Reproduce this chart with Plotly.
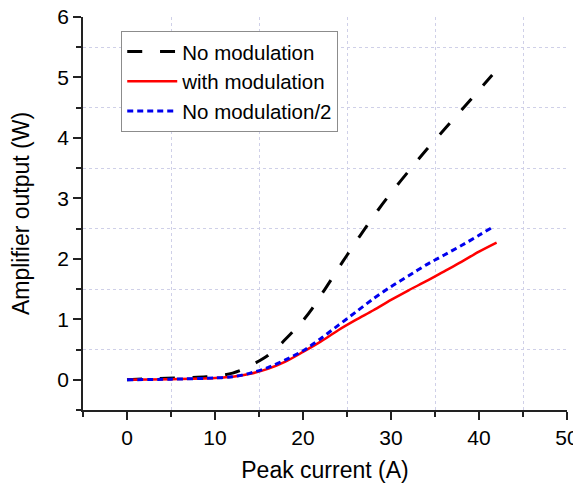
import plotly.graph_objects as go

# Peak current (A) and amplifier output (W)
x_nomod = [0, 3, 6, 9, 11, 12, 13, 14, 15, 16, 17, 18, 19, 20, 21, 22, 23, 24, 25, 26, 27, 28, 29, 30, 32, 34, 36, 38, 40, 41.5]
y_nomod = [0, 0.02, 0.03, 0.05, 0.08, 0.11, 0.16, 0.23, 0.31, 0.40, 0.52, 0.67, 0.82, 0.98, 1.17, 1.39, 1.61, 1.84, 2.06, 2.28, 2.49, 2.70, 2.90, 3.09, 3.45, 3.80, 4.13, 4.46, 4.79, 5.04]

x_mod = [0, 5, 10, 12, 14, 16, 18, 20, 22, 24, 26, 28, 30, 32, 34, 36, 38, 40, 42]
y_mod = [0, 0.01, 0.03, 0.05, 0.10, 0.18, 0.30, 0.46, 0.63, 0.82, 0.99, 1.15, 1.32, 1.48, 1.63, 1.79, 1.95, 2.12, 2.27]

x_half = [0, 5, 10, 12, 14, 16, 18, 20, 22, 24, 26, 28, 30, 32, 34, 36, 38, 40, 41.5]
y_half = [0, 0.01, 0.03, 0.05, 0.11, 0.20, 0.33, 0.48, 0.68, 0.90, 1.12, 1.34, 1.54, 1.72, 1.90, 2.06, 2.22, 2.39, 2.52]

names = ["No modulation", "with modulation", "No modulation/2"]

FONT = "Liberation Sans, Arial, sans-serif"

fig = go.Figure()
fig.add_trace(go.Scatter(x=x_nomod, y=y_nomod, mode="lines", name=names[0],
                         line=dict(color="black", width=3, dash="15px,17.8px", shape="spline", smoothing=0.8)))
fig.add_trace(go.Scatter(x=x_mod, y=y_mod, mode="lines", name=names[1],
                         line=dict(color="#ff0000", width=2.5, shape="spline", smoothing=0.8)))
fig.add_trace(go.Scatter(x=x_half, y=y_half, mode="lines", name=names[2],
                         line=dict(color="#0000ee", width=3, dash="6px,4px", shape="spline", smoothing=0.8)))

grid_color = "#cfd0e8"
axis_color = "#222222"

# the page body adds an 8px offset; margins compensate so the plot area lands in place
fig.update_layout(
    width=581, height=484,
    margin=dict(l=75, t=9, r=22, b=82),
    paper_bgcolor="white", plot_bgcolor="white",
    font=dict(family=FONT, size=21, color="black"),
    showlegend=True,
    legend=dict(x=0.079, y=0.965, xanchor="left", yanchor="top",
                bordercolor="#8c8c8c", borderwidth=1, bgcolor="white",
                font=dict(size=20.5, family=FONT), itemwidth=50,
                tracegroupgap=0),
)

fig.update_xaxes(
    range=[-5, 50], tick0=0, dtick=10, automargin=False,
    showline=True, linecolor=axis_color, linewidth=1.5,
    ticks="outside", ticklen=8, tickwidth=1.5, tickcolor=axis_color,
    showgrid=False, zeroline=False, ticklabeloverflow="allow",
    tickfont=dict(size=21, family=FONT),
    minor=dict(dtick=5, tick0=0, ticks="outside", ticklen=5, tickwidth=1.5, tickcolor=axis_color,
               showgrid=True, gridcolor=grid_color, gridwidth=1, griddash="dot"),
    title=dict(text="Peak current (A)", font=dict(size=23, family=FONT), standoff=14),
)
fig.update_yaxes(
    range=[-0.5, 6], tick0=0, dtick=1, automargin=False,
    showline=True, linecolor=axis_color, linewidth=1.5,
    ticks="outside", ticklen=8, tickwidth=1.5, tickcolor=axis_color,
    showgrid=False, zeroline=False, ticklabeloverflow="allow",
    tickfont=dict(size=21, family=FONT),
    minor=dict(dtick=0.5, tick0=0, ticks="outside", ticklen=5, tickwidth=1.5, tickcolor=axis_color,
               showgrid=True, gridcolor=grid_color, gridwidth=1, griddash="dot"),
    title=dict(text="Amplifier output (W)", font=dict(size=23, family=FONT), standoff=21),
)

fig.write_html("out.html")
